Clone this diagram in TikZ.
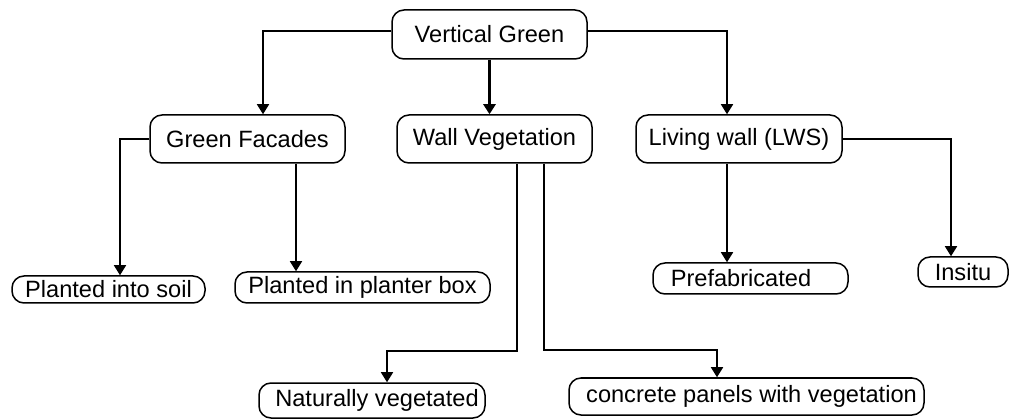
\documentclass[tikz,border=0pt]{standalone}
\usepackage{fontspec}
\setmainfont{Liberation Sans}
\usetikzlibrary{arrows.meta}
\begin{document}
\begin{tikzpicture}[x=1pt,y=-1pt,
  box/.style={draw, line width=1.5pt, rounded corners=12pt, inner sep=0pt, align=center,
    font=\fontsize{23.6}{27}\selectfont},
  conn/.style={line width=1.6pt, -{Triangle[width=12pt,length=10pt]}},
  thickconn/.style={line width=2.8pt, -{Triangle[width=12pt,length=10pt]}}]
\useasboundingbox (0,0) rectangle (1009,419);
\node[box, minimum width=195pt, minimum height=49pt] (vg) at (489.5,34.5) {Vertical Green};
\node[box, minimum width=195pt, minimum height=48pt] (gf) at (247.5,139) {Green Facades};
\node[box, minimum width=195pt, minimum height=48pt] (wv) at (494.5,139) {Wall Vegetation};
\node[box, minimum width=206pt, minimum height=48pt] (lw) at (739,139) {Living wall (LWS)};
\node[box, minimum width=193pt, minimum height=27pt] (pis) at (108.5,289.5) {Planted into soil};
\node[box, minimum width=255pt, minimum height=31pt] (ppb) at (362.5,287.5) {Planted in planter box};
\node[box, minimum width=226pt, minimum height=35pt] (nv) at (372,400.5) {\hspace{10pt}Naturally vegetated};
\node[box, minimum width=355pt, minimum height=37pt] (cp) at (746.5,396.5) {\hspace{10pt}concrete panels with vegetation};
\node[box, minimum width=195pt, minimum height=31pt] (pf) at (750.5,278.5) {Prefabricated\hspace{19pt}};
\node[box, minimum width=90pt, minimum height=30pt] (ins) at (963,272) {Insitu};

\draw[conn] ([yshift=3.5pt]vg.west) -| ([xshift=15.5pt]gf.north);
\draw[conn] ([yshift=3.5pt]vg.east) -| ([xshift=-12pt]lw.north);
\draw[thickconn] (vg.south) -- (vg.south |- wv.north);
\draw[conn] (gf.west) -| ([xshift=11.5pt]pis.north);
\draw[conn] ([xshift=48.5pt]gf.south) -- ([xshift=48.5pt]gf.south |- ppb.north);
\draw[conn] ([xshift=22.5pt]wv.south) -- ++(0,187) -| ([xshift=15pt]nv.north);
\draw[conn] ([xshift=49.5pt]wv.south) -- ++(0,186) -| ([xshift=-29.5pt]cp.north);
\draw[conn] ([xshift=-12pt]lw.south) -- ([xshift=-12pt]lw.south |- pf.north);
\draw[conn] (lw.east) -| ([xshift=-12pt]ins.north);
\end{tikzpicture}
\end{document}
